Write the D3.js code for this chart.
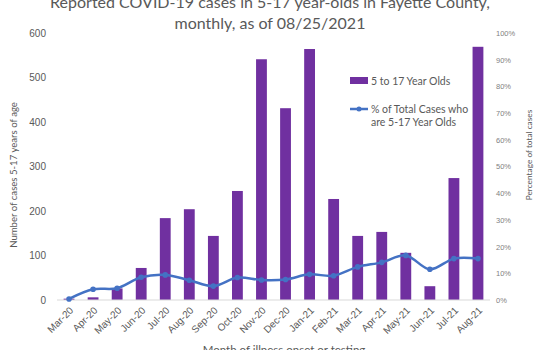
<!DOCTYPE html>
<html>
<head>
<meta charset="utf-8">
<script src="https://cdn.jsdelivr.net/npm/d3@7"></script>
<style>
   body { margin: 0; background: #fff; }
   svg { display: block; font-family: Lato, "Liberation Sans", sans-serif; }
</style>
</head>
<body>
<svg id="chart"></svg>
<script>
// Data
const months = ["Mar-20", "Apr-20", "May-20", "Jun-20", "Jul-20", "Aug-20", "Sep-20", "Oct-20", "Nov-20",
   "Dec-20", "Jan-21", "Feb-21", "Mar-21", "Apr-21", "May-21", "Jun-21", "Jul-21", "Aug-21"];
const cases = [3, 6, 26, 72, 184, 204, 144, 245, 541, 431, 564, 227, 144, 153, 106, 31, 274, 569];
const pctTotal = [0.4, 4.0, 4.4, 8.5, 9.4, 7.4, 5.2, 8.4, 7.5, 7.7, 9.6, 9.1, 12.4, 14.1, 16.7, 11.5, 15.5, 15.5];
const leftTicks = [0, 100, 200, 300, 400, 500, 600];
const rightTicks = [0, 10, 20, 30, 40, 50, 60, 70, 80, 90, 100];

window.onload = function() {
   drawChart();
}

function drawChart() {
   let width = 538;
   let height = 350;
   let margin = {top: 33, right: 48, bottom: 50, left: 57};
   let barColor = "#7030a0";
   let lineColor = "#4472c4";
   let textColor = "#595959";

   let svg = d3.select("#chart")
      .attr("width", width)
      .attr("height", height);

   let x = d3.scaleBand()
      .domain(months)
      .range([margin.left, width - margin.right])
      .paddingInner(0.55)
      .paddingOuter(0.275);

   let yLeft = d3.scaleLinear()
      .domain([0, 600])
      .range([height - margin.bottom, margin.top]);

   let yRight = d3.scaleLinear()
      .domain([0, 100])
      .range([height - margin.bottom, margin.top]);

   // Title
   let title = svg.append("text")
      .attr("x", 270)
      .attr("y", 8)
      .attr("text-anchor", "middle")
      .attr("fill", textColor)
      .style("font-size", "16px");
   title.append("tspan").attr("x", 270).text("Reported COVID-19 cases in 5-17 year-olds in Fayette County,");
   title.append("tspan").attr("x", 270).attr("dy", 21).text("monthly, as of 08/25/2021");

   // Bars
   svg.append("g")
      .selectAll("rect")
      .data(cases)
      .join("rect")
         .attr("x", (d, i) => x(months[i]))
         .attr("y", d => yLeft(d))
         .attr("width", x.bandwidth())
         .attr("height", d => yLeft(0) - yLeft(d))
         .attr("fill", barColor);

   // Bottom axis line
   svg.append("line")
      .attr("x1", margin.left)
      .attr("x2", width - margin.right)
      .attr("y1", yLeft(0))
      .attr("y2", yLeft(0))
      .attr("stroke", "#d9d9d9")
      .attr("stroke-width", 1);

   // Left axis
   let leftAxis = d3.axisLeft(yLeft)
      .tickValues(leftTicks)
      .tickSize(0)
      .tickPadding(11);
   let gl = svg.append("g")
      .attr("transform", "translate(" + margin.left + ",0)")
      .call(leftAxis);
   gl.select(".domain").remove();
   gl.selectAll("text")
      .attr("fill", textColor)
      .style("font-size", "10px");

   // Right axis
   let rightAxis = d3.axisRight(yRight)
      .tickValues(rightTicks)
      .tickFormat(d => d + "%")
      .tickSize(0)
      .tickPadding(6);
   let gr = svg.append("g")
      .attr("transform", "translate(" + (width - margin.right) + ",0)")
      .call(rightAxis);
   gr.select(".domain").remove();
   gr.selectAll("text")
      .attr("fill", "#7f7f7f")
      .style("font-size", "7.5px");

   // Bottom axis labels
   let bottomAxis = d3.axisBottom(x)
      .tickSize(0)
      .tickPadding(0);
   let gb = svg.append("g")
      .attr("transform", "translate(0," + yLeft(0) + ")")
      .call(bottomAxis);
   gb.select(".domain").remove();
   gb.selectAll("text")
      .attr("fill", textColor)
      .style("font-size", "10px")
      .attr("text-anchor", "end")
      .attr("dy", 0)
      .attr("y", 0)
      .attr("transform", "translate(5,11) rotate(-45)");

   // Line series
   let line = d3.line()
      .x((d, i) => x(months[i]) + x.bandwidth() / 2)
      .y(d => yRight(d))
      .curve(d3.curveCatmullRom.alpha(0.5));

   svg.append("path")
      .datum(pctTotal)
      .attr("d", line)
      .attr("fill", "none")
      .attr("stroke", lineColor)
      .attr("stroke-width", 2.5);

   svg.append("g")
      .selectAll("circle")
      .data(pctTotal)
      .join("circle")
         .attr("cx", (d, i) => x(months[i]) + x.bandwidth() / 2)
         .attr("cy", d => yRight(d))
         .attr("r", 2.8)
         .attr("fill", lineColor);

   // Axis titles
   svg.append("text")
      .attr("transform", "translate(17,175) rotate(-90)")
      .attr("text-anchor", "middle")
      .attr("fill", textColor)
      .style("font-size", "9.6px")
      .text("Number of cases 5-17 years of age");

   svg.append("text")
      .attr("transform", "translate(532,155) rotate(-90)")
      .attr("text-anchor", "middle")
      .attr("fill", textColor)
      .style("font-size", "8.3px")
      .text("Percentage of total cases");

   svg.append("text")
      .attr("x", 284)
      .attr("y", 354)
      .attr("text-anchor", "middle")
      .attr("fill", textColor)
      .style("font-size", "11.5px")
      .text("Month of illness onset or testing");

   // Legend
   let legend = svg.append("g").attr("transform", "translate(350,0)");
   legend.append("rect")
      .attr("x", 0)
      .attr("y", 77)
      .attr("width", 18)
      .attr("height", 7)
      .attr("fill", barColor);
   legend.append("text")
      .attr("x", 21)
      .attr("y", 85)
      .attr("fill", textColor)
      .style("font-size", "10.5px")
      .text("5 to 17 Year Olds");
   legend.append("line")
      .attr("x1", 0)
      .attr("x2", 18)
      .attr("y1", 109)
      .attr("y2", 109)
      .attr("stroke", lineColor)
      .attr("stroke-width", 2.5);
   legend.append("circle")
      .attr("cx", 9)
      .attr("cy", 109)
      .attr("r", 2.5)
      .attr("fill", lineColor);
   let lt = legend.append("text")
      .attr("y", 113)
      .attr("fill", textColor)
      .style("font-size", "10.5px");
   lt.append("tspan").attr("x", 21).text("% of Total Cases who");
   lt.append("tspan").attr("x", 21).attr("dy", 13).text("are 5-17 Year Olds");
}
</script>
</body>
</html>
